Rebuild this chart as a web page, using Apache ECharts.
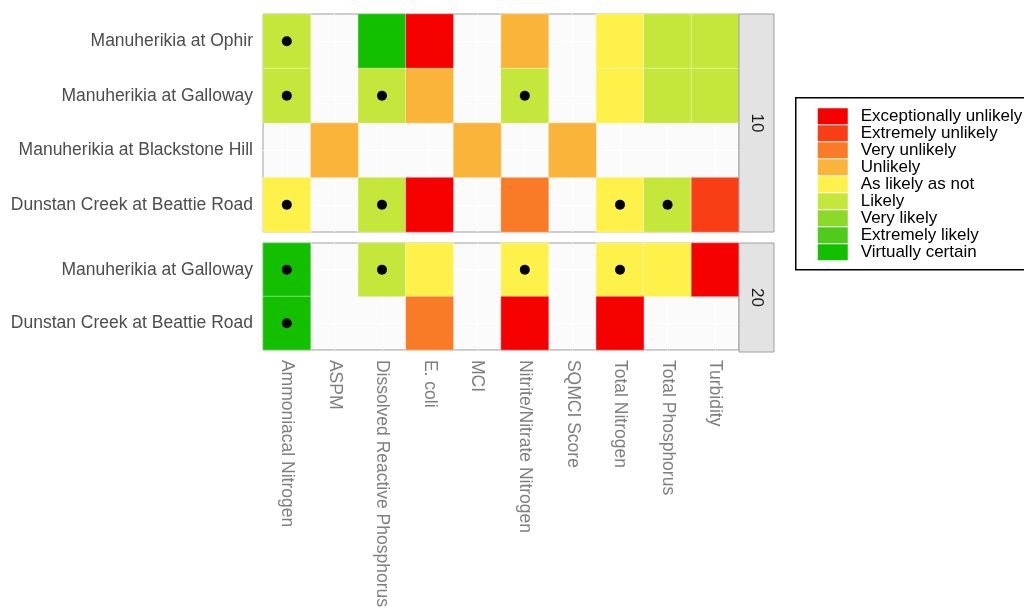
<!DOCTYPE html>
<html><head><meta charset="utf-8">
<script src="https://cdn.jsdelivr.net/npm/echarts@6/dist/echarts.min.js"></script>
<style>html,body{margin:0;padding:0;background:#fff}#c{width:1024px;height:610px}</style>
</head><body><div id="c"></div>
<script>
const variables = ['Ammoniacal Nitrogen','ASPM','Dissolved Reactive Phosphorus','E. coli','MCI','Nitrite/Nitrate Nitrogen','SQMCI Score','Total Nitrogen','Total Phosphorus','Turbidity'];
const sites10 = ['Manuherikia at Ophir','Manuherikia at Galloway','Manuherikia at Blackstone Hill','Dunstan Creek at Beattie Road'];
const sites20 = ['Manuherikia at Galloway','Dunstan Creek at Beattie Road'];
const panelLabels = ['10','20'];
const levels = ['Exceptionally unlikely','Extremely unlikely','Very unlikely','Unlikely','As likely as not','Likely','Very likely','Extremely likely','Virtually certain'];
const levelColors = ['#F60000','#F93E15','#F97B27','#FBB43A','#FEF14A','#C5E63A','#8BD92A','#4FCC1B','#12C000'];
// likelihood level index per site (row) and variable (column); null = no data
const ratings10 = [
  [5,null,8,0,null,3,null,4,5,5],
  [5,null,5,3,null,5,null,4,5,5],
  [null,3,null,null,3,null,3,null,null,null],
  [4,null,5,0,null,2,null,4,5,1]
];
const ratings20 = [
  [8,null,5,4,null,4,null,4,4,0],
  [8,null,null,2,null,0,null,0,null,null]
];
// 1 = dot marker shown
const dots10 = [
  [1,0,0,0,0,0,0,0,0,0],
  [1,0,1,0,0,1,0,0,0,0],
  [0,0,0,0,0,0,0,0,0,0],
  [1,0,1,0,0,0,0,1,1,0]
];
const dots20 = [
  [1,0,1,0,0,1,0,1,0,0],
  [1,0,0,0,0,0,0,0,0,0]
];

function heat(r){const o=[];r.forEach((row,y)=>row.forEach((v,x)=>{if(v!==null)o.push([x,y,v]);}));return o;}
function dots(d){const o=[];d.forEach((row,y)=>row.forEach((v,x)=>{if(v)o.push([x,y]);}));return o;}

const font = 'Liberation Sans, Arial, sans-serif';
const grids = [
  {left:263, top:14, width:476, height:218},
  {left:263, top:243, width:476, height:109}
];
const gridOpt = grids.map(g=>Object.assign({show:true, backgroundColor:'#fbfbfb', borderColor:'#9e9e9e', borderWidth:1}, g));
function xAxis(i, showLabels){
  return {type:'category', gridIndex:i, data:variables, axisLine:{show:false}, axisTick:{show:false},
    splitLine:{show:true, alignWithLabel:true, lineStyle:{color:'#ffffff', width:1}},
    axisLabel:{show:showLabels, rotate:-90, fontSize:17.5, color:'#7f7f7f', fontFamily:font, margin:10}};
}
function yAxis(i, data){
  return {type:'category', gridIndex:i, data:data, inverse:true, axisLine:{show:false}, axisTick:{show:false},
    splitLine:{show:true, alignWithLabel:true, lineStyle:{color:'#ffffff', width:1}},
    axisLabel:{fontSize:17.5, color:'#4d4d4d', fontFamily:font, margin:10}};
}
const graphics = [];
grids.forEach((g,i)=>{
  graphics.push({type:'rect', shape:{x:g.left+g.width, y:g.top, width:35, height:g.height},
    style:{fill:'#e3e3e3', stroke:'#9e9e9e', lineWidth:1}, z:10});
  graphics.push({type:'text', x:g.left+g.width+17.5, y:g.top+g.height/2, rotation:-Math.PI/2,
    style:{text:panelLabels[i], fontSize:17, fill:'#1a1a1a', fontFamily:font, align:'center', verticalAlign:'middle'}, z:11});
});

const chart = echarts.init(document.getElementById('c'));
chart.setOption({
  animation:false,
  grid: gridOpt,
  xAxis:[xAxis(0,false), xAxis(1,true)],
  yAxis:[yAxis(0,sites10), yAxis(1,sites20)],
  visualMap:{
    type:'piecewise', seriesIndex:[0,1], dimension:2, orient:'vertical', align:'left', inverse:true,
    pieces: levels.map((l,i)=>({value:i, label:l, color:levelColors[i]})),
    left:795, top:97, itemWidth:30, itemHeight:16, itemGap:0, itemSymbol:'rect', textGap:13,
    selectedMode:false, showLabel:true,
    padding:[10,30,9,22], borderColor:'#000', borderWidth:1.5, backgroundColor:'#fff',
    textStyle:{fontSize:17, color:'#000', fontFamily:font}
  },
  graphic: graphics,
  series:[
    {type:'heatmap', xAxisIndex:0, yAxisIndex:0, data:heat(ratings10), itemStyle:{borderColor:'rgba(255,255,255,0.7)', borderWidth:0.6}},
    {type:'heatmap', xAxisIndex:1, yAxisIndex:1, data:heat(ratings20), itemStyle:{borderColor:'rgba(255,255,255,0.7)', borderWidth:0.6}},
    {type:'scatter', xAxisIndex:0, yAxisIndex:0, data:dots(dots10), symbol:'circle', symbolSize:10, itemStyle:{color:'#000', opacity:1}, z:5},
    {type:'scatter', xAxisIndex:1, yAxisIndex:1, data:dots(dots20), symbol:'circle', symbolSize:10, itemStyle:{color:'#000', opacity:1}, z:5}
  ]
});
</script>
</body></html>
